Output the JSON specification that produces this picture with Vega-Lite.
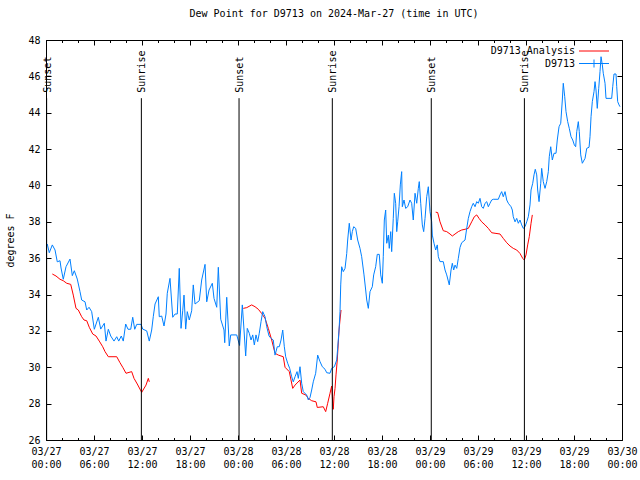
{
  "$schema": "https://vega.github.io/schema/vega-lite/v6.json",
  "width": 576,
  "height": 400,
  "autosize": "none",
  "padding": {"left": 46, "top": 40, "right": 18, "bottom": 40},
  "background": "white",
  "title": {"text": "Dew Point for D9713 on 2024-Mar-27 (time in UTC)", "fontWeight": "normal", "fontSize": 10, "font": "DejaVu Sans Mono", "color": "black", "offset": 16},
  "datasets": {
    "ana": [
      {"h":0.79,"v":35.13,"seg":1},{"h":1.25,"v":35.02,"seg":1},{"h":1.75,"v":34.84,"seg":1},{"h":2.16,"v":34.76,"seg":1},{"h":2.59,"v":34.62,"seg":1},{"h":3.09,"v":34.56,"seg":1},{"h":3.41,"v":33.97,"seg":1},{"h":3.75,"v":33.24,"seg":1},{"h":4.04,"v":33.15,"seg":1},{"h":4.46,"v":32.78,"seg":1},{"h":4.75,"v":32.6,"seg":1},{"h":5.09,"v":32.56,"seg":1},{"h":5.41,"v":32.2,"seg":1},{"h":5.84,"v":31.83,"seg":1},{"h":6.25,"v":31.72,"seg":1},{"h":6.66,"v":31.44,"seg":1},{"h":7.09,"v":31.13,"seg":1},{"h":7.38,"v":30.86,"seg":1},{"h":7.79,"v":30.58,"seg":1},{"h":8.84,"v":30.58,"seg":1},{"h":9.25,"v":30.25,"seg":1},{"h":9.59,"v":30.0,"seg":1},{"h":10.0,"v":29.67,"seg":1},{"h":10.71,"v":29.76,"seg":1},{"h":11.0,"v":29.39,"seg":1},{"h":11.41,"v":29.08,"seg":1},{"h":11.96,"v":28.62,"seg":1},{"h":12.5,"v":29.02,"seg":1},{"h":12.79,"v":29.39,"seg":1},{"h":12.91,"v":29.2,"seg":1},
      {"h":24.66,"v":33.24,"seg":2},{"h":25.09,"v":33.28,"seg":2},{"h":25.71,"v":33.43,"seg":2},{"h":26.13,"v":33.33,"seg":2},{"h":26.54,"v":33.19,"seg":2},{"h":26.96,"v":32.96,"seg":2},{"h":27.38,"v":32.69,"seg":2},{"h":27.79,"v":32.14,"seg":2},{"h":28.21,"v":31.5,"seg":2},{"h":28.63,"v":30.77,"seg":2},{"h":29.04,"v":30.67,"seg":2},{"h":29.66,"v":30.58,"seg":2},{"h":29.88,"v":30.0,"seg":2},{"h":30.41,"v":29.76,"seg":2},{"h":30.84,"v":28.84,"seg":2},{"h":31.13,"v":29.02,"seg":2},{"h":31.75,"v":29.3,"seg":2},{"h":31.96,"v":28.57,"seg":2},{"h":32.5,"v":28.47,"seg":2},{"h":32.79,"v":28.29,"seg":2},{"h":33.21,"v":28.16,"seg":2},{"h":33.75,"v":28.1,"seg":2},{"h":33.91,"v":27.79,"seg":2},{"h":34.66,"v":27.83,"seg":2},{"h":34.96,"v":27.56,"seg":2},{"h":35.21,"v":28.02,"seg":2},{"h":35.5,"v":28.57,"seg":2},{"h":35.71,"v":28.97,"seg":2},{"h":35.84,"v":28.02,"seg":2},{"h":35.91,"v":27.69,"seg":2},{"h":36.0,"v":28.38,"seg":2},{"h":36.13,"v":28.84,"seg":2},{"h":36.25,"v":29.58,"seg":2},{"h":36.41,"v":30.4,"seg":2},{"h":36.63,"v":32.05,"seg":2},{"h":36.75,"v":32.6,"seg":2},{"h":36.88,"v":33.15,"seg":2},
      {"h":48.71,"v":38.53,"seg":3},{"h":48.96,"v":38.51,"seg":3},{"h":49.25,"v":38.0,"seg":3},{"h":49.66,"v":37.51,"seg":3},{"h":50.09,"v":37.46,"seg":3},{"h":50.5,"v":37.33,"seg":3},{"h":50.79,"v":37.22,"seg":3},{"h":51.13,"v":37.33,"seg":3},{"h":51.54,"v":37.46,"seg":3},{"h":51.96,"v":37.55,"seg":3},{"h":52.38,"v":37.59,"seg":3},{"h":52.79,"v":37.64,"seg":3},{"h":53.21,"v":38.0,"seg":3},{"h":53.54,"v":38.28,"seg":3},{"h":53.84,"v":38.38,"seg":3},{"h":54.13,"v":38.19,"seg":3},{"h":54.46,"v":38.0,"seg":3},{"h":54.88,"v":37.83,"seg":3},{"h":55.29,"v":37.64,"seg":3},{"h":55.71,"v":37.4,"seg":3},{"h":56.13,"v":37.37,"seg":3},{"h":56.75,"v":37.33,"seg":3},{"h":57.16,"v":37.09,"seg":3},{"h":57.59,"v":36.85,"seg":3},{"h":58.0,"v":36.67,"seg":3},{"h":58.41,"v":36.54,"seg":3},{"h":58.84,"v":36.45,"seg":3},{"h":59.25,"v":36.26,"seg":3},{"h":59.59,"v":35.99,"seg":3},{"h":59.79,"v":35.9,"seg":3},{"h":60.0,"v":36.18,"seg":3},{"h":60.21,"v":36.73,"seg":3},{"h":60.41,"v":37.18,"seg":3},{"h":60.63,"v":37.92,"seg":3},{"h":60.79,"v":38.38,"seg":3}
    ],
    "obs": [
      {"h":0.16,"v":36.78},{"h":0.41,"v":36.3},{"h":0.79,"v":36.73},{"h":1.13,"v":36.45},{"h":1.41,"v":35.8},{"h":1.75,"v":35.86},{"h":1.88,"v":35.46},{"h":2.16,"v":34.84},{"h":2.5,"v":35.53},{"h":3.0,"v":35.95},{"h":3.29,"v":35.04},{"h":3.54,"v":35.31},{"h":3.91,"v":34.85},{"h":4.25,"v":34.16},{"h":4.46,"v":33.7},{"h":4.88,"v":33.6},{"h":5.09,"v":33.15},{"h":5.38,"v":33.3},{"h":5.71,"v":33.06},{"h":6.04,"v":32.09},{"h":6.54,"v":32.75},{"h":6.84,"v":32.1},{"h":7.29,"v":32.42},{"h":7.5,"v":31.44},{"h":7.79,"v":32.09},{"h":8.09,"v":31.72},{"h":8.5,"v":31.44},{"h":8.84,"v":31.68},{"h":9.09,"v":31.44},{"h":9.41,"v":31.72},{"h":9.66,"v":31.44},{"h":9.96,"v":32.38},{"h":10.25,"v":32.09},{"h":10.59,"v":32.09},{"h":10.84,"v":32.75},{"h":11.09,"v":32.09},{"h":11.34,"v":32.36},{"h":11.88,"v":32.36},{"h":12.09,"v":32.1},{"h":12.59,"v":32.0},{"h":12.91,"v":31.44},{"h":13.21,"v":32.05},{"h":13.41,"v":32.78},{"h":13.63,"v":33.48},{"h":14.04,"v":33.88},{"h":14.16,"v":32.78},{"h":14.46,"v":32.82},{"h":14.75,"v":32.27},{"h":15.0,"v":32.93},{"h":15.16,"v":34.07},{"h":15.5,"v":34.89},{"h":15.84,"v":32.75},{"h":16.13,"v":32.93},{"h":16.41,"v":32.93},{"h":16.66,"v":35.44},{"h":16.88,"v":32.14},{"h":17.09,"v":33.11},{"h":17.25,"v":33.97},{"h":17.46,"v":32.1},{"h":17.66,"v":33.06},{"h":17.91,"v":32.6},{"h":18.21,"v":33.11},{"h":18.41,"v":34.53},{"h":18.63,"v":33.48},{"h":19.16,"v":33.66},{"h":19.46,"v":34.8},{"h":19.88,"v":35.66},{"h":20.09,"v":33.6},{"h":20.38,"v":34.25},{"h":20.79,"v":34.62},{"h":21.0,"v":33.79},{"h":21.34,"v":33.3},{"h":21.54,"v":35.5},{"h":21.84,"v":32.64},{"h":22.25,"v":32.05},{"h":22.34,"v":31.35},{"h":22.59,"v":33.85},{"h":22.91,"v":31.17},{"h":23.09,"v":31.78},{"h":23.84,"v":31.78},{"h":24.2,"v":31.2},{"h":24.54,"v":33.43},{"h":24.75,"v":32.05},{"h":24.96,"v":30.62},{"h":25.16,"v":32.14},{"h":25.41,"v":31.87},{"h":25.63,"v":31.5},{"h":25.84,"v":31.78},{"h":26.04,"v":31.23},{"h":26.25,"v":31.78},{"h":26.46,"v":31.41},{"h":26.66,"v":31.87},{"h":26.88,"v":32.51},{"h":27.09,"v":33.06},{"h":27.38,"v":32.78},{"h":27.59,"v":32.23},{"h":27.88,"v":31.72},{"h":28.13,"v":31.59},{"h":28.41,"v":31.5},{"h":28.63,"v":30.67},{"h":28.91,"v":31.13},{"h":29.16,"v":31.13},{"h":29.38,"v":31.5},{"h":29.59,"v":32.05},{"h":29.79,"v":31.13},{"h":29.96,"v":30.58},{"h":30.21,"v":30.22},{"h":30.46,"v":29.94},{"h":30.71,"v":29.48},{"h":30.91,"v":29.2},{"h":31.13,"v":29.48},{"h":31.38,"v":29.76},{"h":31.54,"v":29.39},{"h":31.75,"v":30.03},{"h":31.96,"v":29.12},{"h":32.16,"v":28.66},{"h":32.59,"v":28.47},{"h":32.79,"v":28.2},{"h":33.0,"v":28.34},{"h":33.21,"v":28.75},{"h":33.41,"v":29.2},{"h":33.71,"v":29.67},{"h":33.96,"v":30.67},{"h":34.25,"v":30.31},{"h":34.54,"v":30.03},{"h":34.88,"v":29.89},{"h":35.09,"v":29.7},{"h":35.5,"v":29.67},{"h":35.71,"v":29.94},{"h":36.04,"v":30.03},{"h":36.34,"v":30.4},{"h":36.46,"v":31.05},{"h":36.63,"v":32.05},{"h":36.75,"v":33.06},{"h":36.84,"v":34.53},{"h":36.96,"v":35.53},{"h":37.16,"v":35.26},{"h":37.38,"v":35.44},{"h":37.59,"v":36.26},{"h":37.71,"v":37.0},{"h":37.91,"v":37.92},{"h":38.13,"v":37.0},{"h":38.29,"v":37.46},{"h":38.46,"v":37.73},{"h":38.71,"v":37.64},{"h":38.96,"v":37.0},{"h":39.25,"v":36.54},{"h":39.46,"v":36.08},{"h":39.75,"v":35.08},{"h":39.96,"v":34.25},{"h":40.09,"v":33.7},{"h":40.29,"v":33.24},{"h":40.5,"v":34.16},{"h":40.79,"v":34.43},{"h":40.96,"v":35.08},{"h":41.21,"v":35.53},{"h":41.41,"v":36.21},{"h":41.66,"v":36.21},{"h":41.84,"v":35.08},{"h":42.04,"v":34.62},{"h":42.16,"v":36.08},{"h":42.29,"v":38.1},{"h":42.46,"v":38.65},{"h":42.59,"v":36.82},{"h":42.79,"v":37.27},{"h":42.91,"v":36.54},{"h":43.09,"v":37.46},{"h":43.21,"v":36.36},{"h":43.41,"v":38.19},{"h":43.54,"v":39.57},{"h":43.71,"v":39.02},{"h":43.84,"v":37.46},{"h":43.96,"v":38.0},{"h":44.13,"v":38.83},{"h":44.29,"v":40.03},{"h":44.46,"v":40.76},{"h":44.54,"v":38.83},{"h":44.75,"v":39.2},{"h":44.96,"v":38.74},{"h":45.21,"v":38.83},{"h":45.5,"v":39.2},{"h":45.71,"v":39.02},{"h":45.91,"v":38.1},{"h":46.13,"v":39.57},{"h":46.34,"v":39.02},{"h":46.54,"v":39.84},{"h":46.66,"v":40.21},{"h":46.84,"v":39.02},{"h":47.04,"v":37.83},{"h":47.21,"v":37.46},{"h":47.38,"v":38.19},{"h":47.59,"v":39.38},{"h":47.79,"v":39.93},{"h":48.0,"v":38.56},{"h":48.21,"v":38.0},{"h":48.29,"v":37.27},{"h":48.5,"v":36.82},{"h":48.71,"v":36.45},{"h":48.91,"v":36.73},{"h":49.04,"v":36.08},{"h":49.25,"v":35.81},{"h":49.66,"v":35.81},{"h":49.88,"v":35.35},{"h":50.09,"v":35.08},{"h":50.41,"v":34.53},{"h":50.63,"v":35.35},{"h":50.79,"v":35.72},{"h":50.96,"v":35.35},{"h":51.13,"v":35.62},{"h":51.34,"v":35.44},{"h":51.54,"v":35.99},{"h":51.75,"v":36.59},{"h":51.96,"v":36.85},{"h":52.38,"v":37.0},{"h":52.59,"v":37.64},{"h":52.79,"v":38.19},{"h":53.0,"v":38.56},{"h":53.21,"v":38.83},{"h":53.41,"v":39.02},{"h":53.63,"v":38.83},{"h":53.84,"v":39.11},{"h":54.04,"v":39.02},{"h":54.25,"v":39.29},{"h":54.46,"v":38.83},{"h":54.66,"v":38.74},{"h":54.88,"v":39.02},{"h":55.09,"v":39.11},{"h":55.29,"v":38.83},{"h":55.5,"v":39.02},{"h":55.71,"v":39.2},{"h":55.91,"v":39.24},{"h":56.54,"v":39.24},{"h":56.75,"v":39.48},{"h":56.96,"v":39.66},{"h":57.16,"v":39.38},{"h":57.38,"v":39.66},{"h":57.59,"v":39.2},{"h":57.79,"v":39.02},{"h":58.13,"v":38.83},{"h":58.29,"v":38.65},{"h":58.41,"v":38.28},{"h":58.63,"v":38.0},{"h":58.84,"v":38.19},{"h":59.04,"v":37.92},{"h":59.25,"v":38.1},{"h":59.46,"v":37.83},{"h":59.66,"v":37.64},{"h":59.88,"v":37.73},{"h":60.09,"v":38.0},{"h":60.29,"v":38.28},{"h":60.5,"v":38.93},{"h":60.63,"v":39.75},{"h":60.84,"v":40.12},{"h":61.0,"v":40.58},{"h":61.16,"v":40.89},{"h":61.34,"v":40.58},{"h":61.46,"v":39.75},{"h":61.63,"v":39.11},{"h":61.84,"v":40.12},{"h":61.96,"v":40.94},{"h":62.16,"v":40.21},{"h":62.38,"v":39.84},{"h":62.59,"v":40.21},{"h":62.79,"v":40.76},{"h":62.91,"v":41.58},{"h":63.09,"v":42.13},{"h":63.29,"v":41.4},{"h":63.5,"v":41.77},{"h":63.75,"v":41.77},{"h":63.91,"v":42.5},{"h":64.13,"v":43.23},{"h":64.34,"v":43.42},{"h":64.54,"v":44.7},{"h":64.66,"v":45.62},{"h":64.84,"v":44.88},{"h":65.0,"v":44.06},{"h":65.21,"v":43.51},{"h":65.41,"v":43.14},{"h":65.63,"v":42.68},{"h":65.84,"v":42.5},{"h":66.04,"v":42.23},{"h":66.21,"v":42.13},{"h":66.34,"v":42.96},{"h":66.54,"v":43.51},{"h":66.66,"v":42.96},{"h":66.84,"v":41.68},{"h":67.04,"v":41.22},{"h":67.38,"v":41.49},{"h":67.59,"v":42.04},{"h":67.88,"v":42.1},{"h":68.0,"v":42.68},{"h":68.13,"v":43.78},{"h":68.29,"v":44.61},{"h":68.5,"v":45.16},{"h":68.63,"v":45.71},{"h":68.75,"v":45.25},{"h":68.91,"v":44.24},{"h":69.09,"v":45.34},{"h":69.25,"v":46.26},{"h":69.38,"v":47.08},{"h":69.54,"v":46.63},{"h":69.66,"v":46.17},{"h":69.88,"v":45.62},{"h":70.0,"v":44.79},{"h":70.71,"v":44.79},{"h":70.84,"v":45.43},{"h":71.0,"v":46.13},{"h":71.25,"v":46.13},{"h":71.34,"v":45.43},{"h":71.46,"v":44.61},{"h":71.63,"v":44.43},{"h":71.75,"v":44.33}
    ],
    "sun": [
      {"h":0.08,"event":"Sunset"},{"h":11.92,"event":"Sunrise"},{"h":24.13,"event":"Sunset"},{"h":35.79,"event":"Sunrise"},{"h":48.16,"event":"Sunset"},{"h":59.8,"event":"Sunrise"}
    ]
  },
  "layer": [
    {
      "data": {"name": "ana"},
      "mark": {"type": "line", "strokeWidth": 1},
      "encoding": {
        "x": {"field": "h", "type": "quantitative", "scale": {"domain": [0, 72], "nice": false, "zero": false},
          "axis": {"orient": "bottom", "values": [0,6,12,18,24,30,36,42,48,54,60,66,72], "tickSize": -5, "labelPadding": 11, "labelFlush": false, "labelOverlap": false, "labelBound": false, "labelLineHeight": 13, "labelBaseline": "top",
            "labelExpr": "['03/' + (27 + floor(datum.value / 24)), (datum.value % 24 < 10 ? '0' : '') + (datum.value % 24) + ':00']", "title": null}},
        "y": {"field": "v", "type": "quantitative", "scale": {"domain": [26, 48], "nice": false, "zero": false},
          "axis": {"orient": "left", "values": [26,28,30,32,34,36,38,40,42,44,46,48], "tickSize": -5, "labelPadding": 11, "labelOverlap": false, "title": "degrees F", "titlePadding": 12}},
        "detail": {"field": "seg"},
        "color": {"datum": "D9713 Analysis", "type": "nominal",
          "scale": {"domain": ["D9713 Analysis", "D9713"], "range": ["#ff0000", "#0080ff"]},
          "legend": {"orient": "none", "legendX": 543, "legendY": 6, "title": null, "padding": 0, "rowPadding": 1.5,
            "symbolType": "M-6,0H6", "symbolSize": 25, "symbolStrokeWidth": 1, "labelAlign": "right", "labelOffset": -24, "labelBaseline": "middle",
            "labelFont": "DejaVu Sans Mono", "labelFontSize": 10, "labelColor": "black",
            "encode": {"symbols": {"update": {"shape": {"signal": "datum.value === 'D9713' ? 'M-6,0H6M0,-1.6V1.6' : 'M-6,0H6'"}}}}}}
      }
    },
    {
      "data": {"name": "obs"},
      "mark": {"type": "line", "strokeWidth": 1},
      "encoding": {
        "x": {"field": "h", "type": "quantitative",
          "axis": {"orient": "bottom", "values": [0,2,4,6,8,10,12,14,16,18,20,22,24,26,28,30,32,34,36,38,40,42,44,46,48,50,52,54,56,58,60,62,64,66,68,70,72], "tickSize": -2.5, "labels": false, "title": null}},
        "y": {"field": "v", "type": "quantitative",
          "axis": {"orient": "right", "values": [26,28,30,32,34,36,38,40,42,44,46,48], "tickSize": -5, "labels": false, "title": null}},
        "color": {"datum": "D9713", "type": "nominal"}
      }
    },
    {
      "data": {"name": "sun"},
      "mark": {"type": "rule", "color": "black", "strokeWidth": 1},
      "encoding": {
        "x": {"field": "h", "type": "quantitative",
          "axis": {"orient": "top", "values": [0,6,12,18,24,30,36,42,48,54,60,66,72], "tickSize": -5, "labels": false, "title": null}},
        "y": {"datum": 26, "type": "quantitative", "axis": null},
        "y2": {"datum": 44.8}
      }
    },
    {
      "data": {"name": "sun"},
      "mark": {"type": "text", "angle": 270, "align": "left", "baseline": "middle", "font": "DejaVu Sans Mono", "fontSize": 10, "color": "black", "dx": 0, "dy": 1},
      "encoding": {
        "x": {"field": "h", "type": "quantitative",
          "axis": {"orient": "top", "values": [0,2,4,6,8,10,12,14,16,18,20,22,24,26,28,30,32,34,36,38,40,42,44,46,48,50,52,54,56,58,60,62,64,66,68,70,72], "tickSize": -2.5, "labels": false, "title": null}},
        "y": {"datum": 45.1, "type": "quantitative", "axis": null},
        "text": {"field": "event"}
      }
    }
  ],
  "resolve": {"axis": {"x": "independent", "y": "independent"}},
  "config": {
    "font": "DejaVu Sans Mono",
    "view": {"stroke": "black", "strokeWidth": 1},
    "axis": {"grid": false, "domain": false, "tickColor": "black", "labelColor": "black", "labelFont": "DejaVu Sans Mono", "labelFontSize": 10, "titleFont": "DejaVu Sans Mono", "titleFontSize": 10, "titleFontWeight": "normal", "titleColor": "black"}
  }
}
